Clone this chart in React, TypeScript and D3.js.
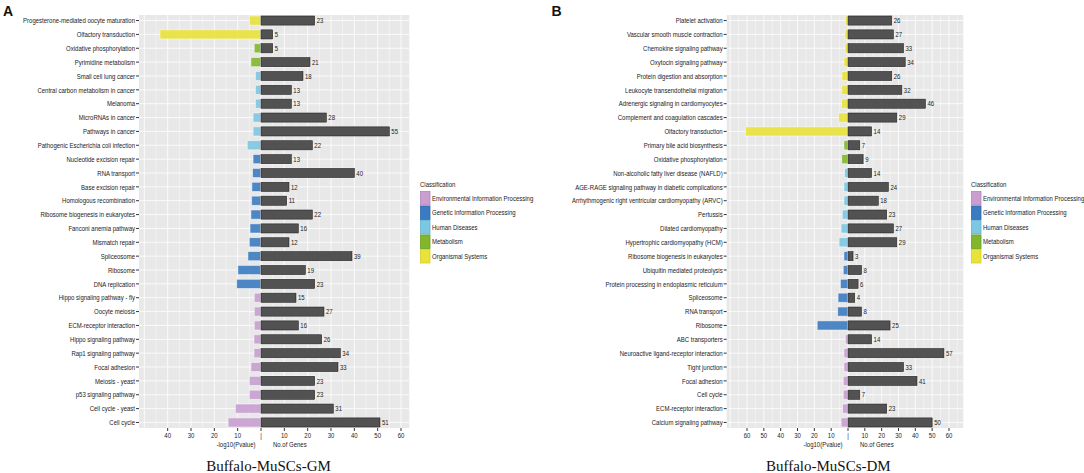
import React from "react";
import * as d3 from "d3";

// ---------- data ----------
const classNames = [
  "Environmental Information Processing",
  "Genetic Information Processing",
  "Human Diseases",
  "Metabolism",
  "Organismal Systems",
];
const classColors = ["#c99fd0", "#3b7bc1", "#7cc7e1", "#82b72b", "#e8e23a"];
const classStroke = ["#b784bf", "#2f69a8", "#62b4d2", "#6c9e1f", "#d6cf26"];

const leftNames = [
  "Progesterone-mediated oocyte maturation",
  "Olfactory transduction",
  "Oxidative phosphorylation",
  "Pyrimidine metabolism",
  "Small cell lung cancer",
  "Central carbon metabolism in cancer",
  "Melanoma",
  "MicroRNAs in cancer",
  "Pathways in cancer",
  "Pathogenic Escherichia coli infection",
  "Nucleotide excision repair",
  "RNA transport",
  "Base excision repair",
  "Homologous recombination",
  "Ribosome biogenesis in eukaryotes",
  "Fanconi anemia pathway",
  "Mismatch repair",
  "Spliceosome",
  "Ribosome",
  "DNA replication",
  "Hippo signaling pathway - fly",
  "Oocyte meiosis",
  "ECM-receptor interaction",
  "Hippo signaling pathway",
  "Rap1 signaling pathway",
  "Focal adhesion",
  "Meiosis - yeast",
  "p53 signaling pathway",
  "Cell cycle - yeast",
  "Cell cycle",
];
const leftPval = [
  5.0, 43.3, 2.9, 4.3, 2.4, 2.4, 2.4, 3.4, 3.4, 5.9, 3.4, 3.6, 3.9, 4.0, 4.3,
  4.7, 5.0, 5.6, 9.9, 10.4, 2.9, 2.9, 2.9, 3.0, 3.0, 4.3, 5.0, 5.0, 11.0, 14.1,
];
const leftGenes = [
  23, 5, 5, 21, 18, 13, 13, 28, 55, 22, 13, 40, 12, 11, 22, 16, 12, 39, 19, 23,
  15, 27, 16, 26, 34, 33, 23, 23, 31, 51,
];
const leftClass = [
  4, 4, 3, 3, 2, 2, 2, 2, 2, 2, 1, 1, 1, 1, 1, 1, 1, 1, 1, 1, 0, 0, 0, 0, 0, 0,
  0, 0, 0, 0,
];

const rightNames = [
  "Platelet activation",
  "Vascular smooth muscle contraction",
  "Chemokine signaling pathway",
  "Oxytocin signaling pathway",
  "Protein digestion and absorption",
  "Leukocyte transendothelial migration",
  "Adrenergic signaling in cardiomyocytes",
  "Complement and coagulation cascades",
  "Olfactory transduction",
  "Primary bile acid biosynthesis",
  "Oxidative phosphorylation",
  "Non-alcoholic fatty liver disease (NAFLD)",
  "AGE-RAGE signaling pathway in diabetic complications",
  "Arrhythmogenic right ventricular cardiomyopathy (ARVC)",
  "Pertussis",
  "Dilated cardiomyopathy",
  "Hypertrophic cardiomyopathy (HCM)",
  "Ribosome biogenesis in eukaryotes",
  "Ubiquitin mediated proteolysis",
  "Protein processing in endoplasmic reticulum",
  "Spliceosome",
  "RNA transport",
  "Ribosome",
  "ABC transporters",
  "Neuroactive ligand-receptor interaction",
  "Tight junction",
  "Focal adhesion",
  "Cell cycle",
  "ECM-receptor interaction",
  "Calcium signaling pathway",
];
const rightPval = [
  1.6, 1.8, 1.8, 2.4, 3.6, 3.7, 3.9, 5.5, 61.0, 2.4, 3.7, 2.0, 2.4, 2.4, 3.4,
  4.1, 5.3, 2.4, 2.8, 4.5, 5.9, 6.1, 18.3, 1.6, 2.4, 2.4, 2.8, 2.8, 3.2, 4.1,
];
const rightGenes = [
  26, 27, 33, 34, 26, 32, 46, 29, 14, 7, 9, 14, 24, 18, 23, 27, 29, 3, 8, 6, 4,
  8, 25, 14, 57, 33, 41, 7, 23, 50,
];
const rightClass = [
  4, 4, 4, 4, 4, 4, 4, 4, 4, 3, 3, 2, 2, 2, 2, 2, 2, 1, 1, 1, 1, 1, 1, 0, 0, 0,
  0, 0, 0, 0,
];

const leftTicks = [-40, -30, -20, -10, 0, 10, 20, 30, 40, 50, 60];
const rightTicks = [-60, -50, -40, -30, -20, -10, 0, 10, 20, 30, 40, 50, 60];

// ---------- layout ----------
const TOP = 15;
const BOTTOM = 428;
const FS = 7.5;
const SX = 0.8;
const SANS = "'Liberation Sans', Arial, sans-serif";

type PanelProps = {
  names: string[];
  pval: number[];
  genes: number[];
  cls: number[];
  x0: number;
  x1: number;
  domain: [number, number];
  ticks: number[];
  gridRange: [number, number];
  caption: string;
  captionX: number;
  letter: string;
  letterX: number;
  legendX: number;
};

function SText(props: {
  x: number;
  y: number;
  anchor?: string;
  size?: number;
  weight?: string;
  fill?: string;
  children: React.ReactNode;
}) {
  const { x, y, anchor = "start", size = FS, weight = "normal", fill = "#222" } =
    props;
  return (
    <text
      transform={`translate(${x},${y}) scale(${SX},1)`}
      textAnchor={anchor}
      fontSize={size}
      fontWeight={weight}
      fill={fill}
      fontFamily={SANS}
    >
      {props.children}
    </text>
  );
}

function Panel(p: PanelProps) {
  const x = d3.scaleLinear().domain(p.domain).range([p.x0, p.x1]);
  const y = d3
    .scalePoint<string>()
    .domain(p.names)
    .range([TOP, BOTTOM])
    .padding(0.4);
  const step = y.step();
  const bh = step * 0.66;
  const x0v = x(0);

  const grid: number[] = [];
  for (let v = p.gridRange[0]; v <= p.gridRange[1]; v += 5) grid.push(v);

  return (
    <g>
      <rect
        x={p.x0}
        y={TOP}
        width={p.x1 - p.x0}
        height={BOTTOM - TOP}
        fill="#e8e8e8"
      />
      {grid.map((v) => (
        <line
          key={"g" + v}
          x1={x(v)}
          x2={x(v)}
          y1={TOP}
          y2={BOTTOM}
          stroke="#fafafa"
          strokeWidth={v % 10 === 0 ? 1 : 0.5}
        />
      ))}
      {p.names.map((n) => (
        <line
          key={"h" + n}
          x1={p.x0}
          x2={p.x1}
          y1={y(n)!}
          y2={y(n)!}
          stroke="#fafafa"
          strokeWidth={1}
        />
      ))}
      {p.names.map((n, i) => {
        const yc = y(n)!;
        const c = p.cls[i];
        return (
          <g key={"b" + n}>
            <rect
              x={x(-p.pval[i])}
              y={yc - bh / 2}
              width={x0v - x(-p.pval[i])}
              height={bh}
              fill={classColors[c]}
              fillOpacity={0.9}
              stroke="#ffffff"
              strokeOpacity={0.6}
              strokeWidth={0.8}
            />
            <rect
              x={x0v - 0.6}
              y={yc - bh / 2 - 0.6}
              width={x(p.genes[i]) - x0v + 1.2}
              height={bh + 1.2}
              fill="#ffffff"
            />
            <rect
              x={x0v}
              y={yc - bh / 2}
              width={x(p.genes[i]) - x0v}
              height={bh}
              fill="#525252"
              stroke="#222222"
              strokeWidth={0.6}
            />
            <SText x={x(p.genes[i]) + 2} y={yc + 2.7}>
              {p.genes[i]}
            </SText>
          </g>
        );
      })}
      {/* y axis labels + ticks */}
      {p.names.map((n) => (
        <g key={"l" + n}>
          <line
            x1={p.x0 - 3}
            x2={p.x0}
            y1={y(n)!}
            y2={y(n)!}
            stroke="#333"
            strokeWidth={1}
          />
          <SText x={p.x0 - 4} y={y(n)! + 2.7} anchor="end">
            {n}
          </SText>
        </g>
      ))}
      {/* x axis ticks */}
      {p.ticks.map((v) => (
        <g key={"t" + v}>
          <line
            x1={x(v)}
            x2={x(v)}
            y1={BOTTOM}
            y2={BOTTOM + 3}
            stroke="#333"
            strokeWidth={1}
          />
          <SText x={x(v)} y={438} anchor="middle">
            {v === 0 ? "|" : String(Math.abs(v))}
          </SText>
        </g>
      ))}
      <SText x={x0v - 5.5} y={446.5} anchor="end">
        -log10(Pvalue)
      </SText>
      <SText x={x0v + 12} y={446.5} anchor="start">
        No.of Genes
      </SText>
      <text
        x={p.captionX}
        y={470.5}
        textAnchor="middle"
        fontSize={15}
        fontFamily="'Liberation Serif', 'Times New Roman', serif"
        fill="#111"
      >
        {p.caption}
      </text>
      <text
        x={p.letterX}
        y={16}
        fontSize={14}
        fontWeight="bold"
        fontFamily={SANS}
        fill="#111"
      >
        {p.letter}
      </text>
      {/* legend */}
      <SText x={p.legendX} y={186.5}>
        Classification
      </SText>
      {classNames.map((cn, k) => {
        const ky = 191 + k * 14.5;
        return (
          <g key={"lg" + cn}>
            <rect
              x={p.legendX + 0.5}
              y={ky + 0.5}
              width={9.5}
              height={13.5}
              fill={classColors[k]}
              stroke={classStroke[k]}
              strokeWidth={0.8}
            />
            <SText x={p.legendX + 12} y={ky + 9.7}>
              {cn}
            </SText>
          </g>
        );
      })}
    </g>
  );
}

export default function App() {
  return (
    <svg
      width={1084}
      height={473}
      style={{ position: "absolute", left: 0, top: 0, background: "#fff" }}
    >
      <rect x={0} y={0} width={1084} height={473} fill="#ffffff" />
      <Panel
        names={leftNames}
        pval={leftPval}
        genes={leftGenes}
        cls={leftClass}
        x0={139}
        x1={409.3}
        domain={[-52.29, 63.56]}
        ticks={leftTicks}
        gridRange={[-50, 60]}
        caption="Buffalo-MuSCs-GM"
        captionX={268.5}
        letter="A"
        letterX={3}
        legendX={420}
      />
      <Panel
        names={rightNames}
        pval={rightPval}
        genes={rightGenes}
        cls={rightClass}
        x0={726.7}
        x1={963.3}
        domain={[-72.07, 68.51]}
        ticks={rightTicks}
        gridRange={[-70, 65]}
        caption="Buffalo-MuSCs-DM"
        captionX={828.3}
        letter="B"
        letterX={551.5}
        legendX={971}
      />
    </svg>
  );
}
